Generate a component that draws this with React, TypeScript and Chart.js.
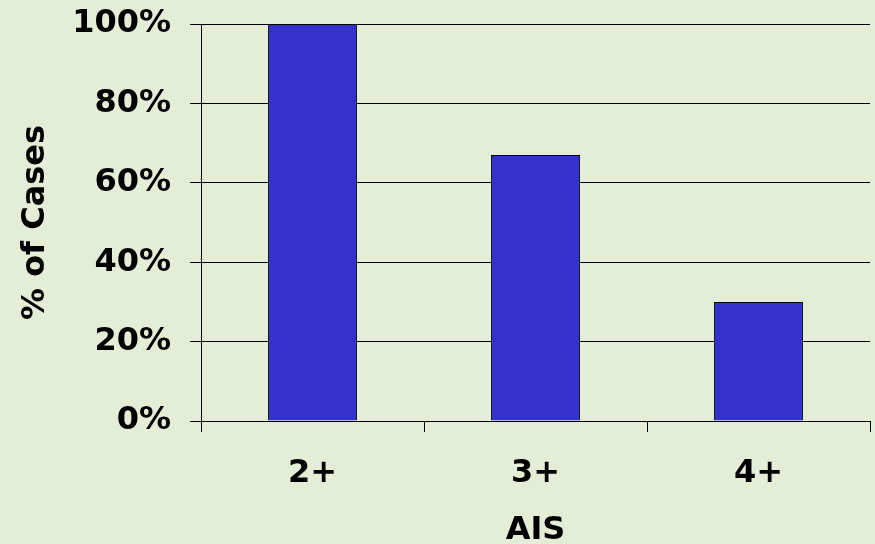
import React, { useEffect, useRef } from "react";
import { Chart, registerables } from "chart.js";

Chart.register(...registerables);

const categories = ["2+", "3+", "4+"];
const percentOfCases = [100, 67, 30];
const yTickValues = [0, 20, 40, 60, 80, 100];
const xTitle = "AIS";
const yTitle = "% of Cases";

const FONT_FAMILY = "Verdana, 'DejaVu Sans', sans-serif";

export default function App() {
  const canvasRef = useRef<HTMLCanvasElement | null>(null);

  useEffect(() => {
    document.body.style.margin = "0";
    const canvas = canvasRef.current;
    if (!canvas) return;
    const font = { family: FONT_FAMILY, size: 32, weight: "bold" as const };
    const chart = new Chart(canvas, {
      type: "bar",
      data: {
        labels: categories,
        datasets: [
          {
            data: percentOfCases,
            backgroundColor: "#3333CC",
            borderColor: "#000000",
            borderWidth: 1,
            categoryPercentage: 1,
            barPercentage: 0.4,
          },
        ],
      },
      options: {
        responsive: false,
        animation: false,
        events: [],
        layout: { padding: { top: 24, right: 5, left: 0, bottom: 0 } },
        plugins: {
          legend: { display: false },
          tooltip: { enabled: false },
        },
        scales: {
          x: {
            offset: true,
            grid: {
              offset: true,
              drawOnChartArea: false,
              drawTicks: true,
              tickLength: 11,
              color: "#000000",
              lineWidth: 1,
            },
            border: { display: true, color: "#000000", width: 1 },
            ticks: { color: "#000000", font, padding: 22, maxRotation: 0 },
            title: {
              display: true,
              text: xTitle,
              color: "#000000",
              font,
              padding: { top: 0, bottom: -6 },
            },
            afterFit: (scale: any) => {
              scale.height = 123;
              scale.paddingLeft = 0;
              scale.paddingRight = 0;
            },
          },
          y: {
            min: 0,
            max: 100,
            afterBuildTicks: (scale: any) => {
              scale.ticks = yTickValues.map((v) => ({ value: v }));
            },
            grid: {
              drawOnChartArea: true,
              drawTicks: true,
              tickLength: 11,
              color: "#000000",
              lineWidth: 1,
            },
            border: { display: true, color: "#000000", width: 1 },
            ticks: {
              color: "#000000",
              font,
              padding: 19,
              callback: (v: any) => `${v}%`,
            },
            title: {
              display: true,
              text: yTitle,
              color: "#000000",
              font,
              padding: { top: 16, bottom: 0 },
            },
            afterFit: (scale: any) => {
              scale.width = 201;
              scale.paddingTop = 0;
              scale.paddingBottom = 0;
            },
          },
        },
      },
    });
    return () => chart.destroy();
  }, []);

  return (
    <div style={{ position: "absolute", left: 0, top: 0, width: 875, height: 544 }}>
      <canvas
        ref={canvasRef}
        width={875}
        height={544}
        style={{ display: "block", width: 875, height: 544, background: "#E4EED6" }}
      />
    </div>
  );
}
